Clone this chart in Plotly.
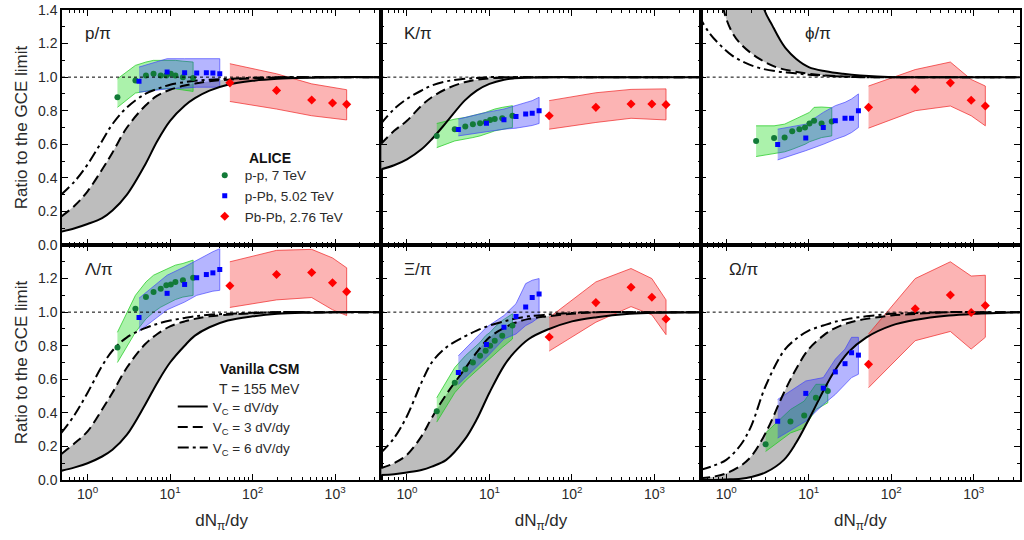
import plotly.graph_objects as go
from plotly.subplots import make_subplots

# ---------------- data ----------------
X_CURVE = [0.48, 0.7, 1, 1.5, 2, 3, 5, 7, 10, 15, 20, 30, 50, 100, 200, 500, 1000, 3600]

P_SOLID = [0.08, 0.10, 0.125, 0.16, 0.205, 0.30, 0.48, 0.62, 0.74, 0.83, 0.875, 0.92, 0.955, 0.978, 0.99, 0.997, 1.0, 1.0]
P_DASH = [0.17, 0.235, 0.32, 0.45, 0.55, 0.70, 0.83, 0.89, 0.925, 0.95, 0.962, 0.975, 0.985, 0.993, 0.997, 1.0, 1.0, 1.0]
P_DDOT = [0.30, 0.38, 0.48, 0.62, 0.72, 0.82, 0.90, 0.93, 0.955, 0.97, 0.978, 0.985, 0.99, 0.996, 1.0, 1.0, 1.0, 1.0]

K_SOLID = [0.45, 0.475, 0.51, 0.57, 0.63, 0.73, 0.86, 0.92, 0.96, 0.985, 0.993, 0.998, 1.0, 1.0, 1.0, 1.0, 1.0, 1.0]
K_DASH = [0.60, 0.68, 0.74, 0.83, 0.88, 0.93, 0.97, 0.985, 0.993, 0.997, 1.0, 1.0, 1.0, 1.0, 1.0, 1.0, 1.0, 1.0]
K_DDOT = [0.72, 0.81, 0.87, 0.92, 0.95, 0.975, 0.99, 0.995, 1.0, 1.0, 1.0, 1.0, 1.0, 1.0, 1.0, 1.0, 1.0, 1.0]

PHI_SOLID_X = [2.4, 2.9, 3.6, 4.4, 5.3, 7, 10, 16, 26, 42, 107, 300, 1000, 3600]
PHI_SOLID = [1.6, 1.40, 1.31, 1.23, 1.17, 1.11, 1.06, 1.035, 1.02, 1.01, 1.0, 1.0, 1.0, 1.0]
PHI_DASH_X = [0.8, 0.93, 1.17, 1.55, 2.5, 4, 6.4, 10, 16, 42, 100, 300, 1000, 3600]
PHI_DASH = [1.6, 1.40, 1.27, 1.19, 1.11, 1.06, 1.035, 1.02, 1.01, 1.0, 1.0, 1.0, 1.0, 1.0]
PHI_DDOT_X = [0.46, 0.61, 0.81, 1.17, 1.71, 2.5, 4, 6.4, 10, 20, 50, 200, 1000, 3600]
PHI_DDOT = [1.37, 1.27, 1.20, 1.13, 1.085, 1.055, 1.035, 1.025, 1.015, 1.005, 1.0, 1.0, 1.0, 1.0]

L_SOLID = [0.055, 0.075, 0.10, 0.14, 0.18, 0.27, 0.45, 0.58, 0.70, 0.80, 0.86, 0.91, 0.95, 0.975, 0.99, 0.997, 1.0, 1.0]
L_DASH = [0.155, 0.22, 0.29, 0.42, 0.52, 0.67, 0.81, 0.87, 0.915, 0.945, 0.96, 0.975, 0.985, 0.993, 1.0, 1.0, 1.0, 1.0]
L_DDOT = [0.28, 0.39, 0.52, 0.68, 0.77, 0.85, 0.905, 0.93, 0.95, 0.965, 0.975, 0.985, 0.99, 0.996, 1.0, 1.0, 1.0, 1.0]

XI_SOLID = [0.03, 0.035, 0.045, 0.06, 0.08, 0.12, 0.24, 0.36, 0.52, 0.68, 0.76, 0.84, 0.895, 0.945, 0.97, 0.99, 0.997, 1.0]
XI_DASH = [0.07, 0.10, 0.15, 0.26, 0.37, 0.51, 0.66, 0.76, 0.85, 0.905, 0.935, 0.96, 0.975, 0.99, 1.0, 1.0, 1.0, 1.0]
XI_DDOT = [0.16, 0.25, 0.38, 0.58, 0.70, 0.79, 0.855, 0.89, 0.92, 0.945, 0.96, 0.975, 0.985, 0.995, 1.0, 1.0, 1.0, 1.0]

OM_SOLID = [0.0, 0.0, 0.003, 0.008, 0.018, 0.045, 0.12, 0.22, 0.36, 0.53, 0.64, 0.76, 0.85, 0.92, 0.955, 0.98, 0.99, 1.0]
OM_DASH = [0.01, 0.02, 0.04, 0.085, 0.14, 0.28, 0.52, 0.66, 0.78, 0.86, 0.90, 0.935, 0.96, 0.98, 0.99, 1.0, 1.0, 1.0]
OM_DDOT = [0.06, 0.085, 0.12, 0.21, 0.32, 0.56, 0.77, 0.84, 0.89, 0.92, 0.94, 0.96, 0.975, 0.99, 0.995, 1.0, 1.0, 1.0]

X_PP = [2.3, 3.8, 5.1, 6.3, 7.7, 9.0, 10.2, 11.6, 14.3, 19.0]
X_PP_OMEGA = [3.0, 6.0, 8.8, 12.2, 17.0]
X_PPB = [4.2, 9.2, 15, 21, 27.5, 33, 40]
X_PBPB = [53, 195, 520, 930, 1380]

P_PP = [0.88, 0.98, 1.01, 1.02, 1.01, 1.01, 1.02, 1.01, 1.0, 0.995]
P_PP_HI = [0.99, 1.07, 1.09, 1.10, 1.10, 1.10, 1.10, 1.10, 1.095, 1.09]
P_PP_LO = [0.82, 0.905, 0.915, 0.925, 0.93, 0.93, 0.93, 0.93, 0.925, 0.915]
P_PPB = [0.976, 1.03, 1.026, 1.024, 1.026, 1.024, 1.02]
P_PPB_HI = [1.06, 1.11, 1.11, 1.11, 1.11, 1.11, 1.11]
P_PPB_LO = [0.91, 0.93, 0.935, 0.94, 0.94, 0.94, 0.94]
P_PBPB = [0.966, 0.921, 0.864, 0.846, 0.838]
P_PBPB_HI = [1.08, 1.02, 0.96, 0.94, 0.925]
P_PBPB_LO = [0.855, 0.81, 0.77, 0.755, 0.745]

K_PP = [0.65, 0.69, 0.706, 0.72, 0.726, 0.733, 0.744, 0.75, 0.755, 0.77]
K_PP_HI = [0.724, 0.75, 0.76, 0.77, 0.78, 0.79, 0.80, 0.81, 0.82, 0.83]
K_PP_LO = [0.58, 0.62, 0.63, 0.64, 0.65, 0.66, 0.67, 0.68, 0.69, 0.70]
K_PPB = [0.688, 0.726, 0.746, 0.765, 0.78, 0.785, 0.80]
K_PPB_HI = [0.75, 0.79, 0.81, 0.83, 0.85, 0.86, 0.88]
K_PPB_LO = [0.65, 0.675, 0.69, 0.696, 0.705, 0.712, 0.724]
K_PBPB = [0.77, 0.82, 0.84, 0.84, 0.836]
K_PBPB_HI = [0.86, 0.907, 0.927, 0.93, 0.93]
K_PBPB_LO = [0.69, 0.73, 0.755, 0.75, 0.745]

PHI_PP = [0.62, 0.637, 0.64, 0.677, 0.69, 0.70, 0.724, 0.74, 0.724, 0.736]
PHI_PP_HI = [0.71, 0.71, 0.72, 0.74, 0.76, 0.775, 0.79, 0.82, 0.822, 0.818]
PHI_PP_LO = [0.527, 0.545, 0.555, 0.57, 0.585, 0.60, 0.615, 0.625, 0.64, 0.65]
PHI_PPB = [0.598, 0.637, 0.70, 0.74, 0.755, 0.755, 0.80]
PHI_PPB_HI = [0.69, 0.72, 0.79, 0.83, 0.85, 0.87, 0.90]
PHI_PPB_LO = [0.507, 0.562, 0.60, 0.63, 0.65, 0.67, 0.70]
PHI_PBPB = [0.82, 0.927, 0.966, 0.862, 0.828]
PHI_PBPB_HI = [0.947, 1.045, 1.09, 0.986, 0.947]
PHI_PBPB_LO = [0.696, 0.80, 0.828, 0.77, 0.71]

L_PP = [0.79, 1.02, 1.09, 1.12, 1.14, 1.16, 1.165, 1.18, 1.19, 1.205]
L_PP_HI = [0.88, 1.10, 1.18, 1.22, 1.24, 1.255, 1.265, 1.28, 1.29, 1.31]
L_PP_LO = [0.70, 0.88, 0.96, 1.0, 1.03, 1.05, 1.06, 1.075, 1.09, 1.10]
L_PPB = [0.968, 1.112, 1.165, 1.205, 1.224, 1.234, 1.254]
L_PPB_HI = [1.083, 1.22, 1.27, 1.31, 1.34, 1.36, 1.378]
L_PPB_LO = [0.886, 1.014, 1.06, 1.10, 1.115, 1.125, 1.13]
L_PBPB = [1.157, 1.224, 1.236, 1.175, 1.122]
L_PBPB_HI = [1.30, 1.368, 1.374, 1.323, 1.264]
L_PBPB_LO = [1.028, 1.073, 1.087, 1.014, 0.98]

XI_PP = [0.41, 0.58, 0.66, 0.70, 0.74, 0.77, 0.80, 0.83, 0.86, 0.92]
XI_PP_HI = [0.49, 0.67, 0.74, 0.78, 0.82, 0.86, 0.88, 0.91, 0.95, 0.99]
XI_PP_LO = [0.345, 0.52, 0.59, 0.63, 0.67, 0.70, 0.72, 0.75, 0.79, 0.84]
XI_PPB = [0.64, 0.807, 0.91, 0.974, 1.03, 1.087, 1.108]
XI_PPB_HI = [0.74, 0.91, 0.98, 1.05, 1.17, 1.19, 1.20]
XI_PPB_LO = [0.57, 0.73, 0.84, 0.87, 0.92, 0.94, 0.97]
XI_PBPB = [0.852, 1.057, 1.148, 1.089, 0.959]
XI_PBPB_HI = [0.968, 1.18, 1.26, 1.20, 1.073]
XI_PBPB_LO = [0.768, 0.94, 1.033, 0.984, 0.866]

OM_PP = [0.213, 0.348, 0.384, 0.49, 0.53]
OM_PP_HI = [0.28, 0.42, 0.47, 0.57, 0.57]
OM_PP_LO = [0.17, 0.28, 0.31, 0.42, 0.46]
OM_PPB = [0.35, 0.516, 0.547, 0.644, 0.693, 0.758, 0.744]
OM_PPB_HI = [0.48, 0.59, 0.61, 0.72, 0.78, 0.85, 0.85]
OM_PPB_LO = [0.25, 0.35, 0.45, 0.51, 0.57, 0.61, 0.63]
OM_PBPB = [0.689, 1.02, 1.102, 0.998, 1.04]
OM_PBPB_HI = [0.87, 1.20, 1.30, 1.215, 1.22]
OM_PBPB_LO = [0.55, 0.83, 0.885, 0.78, 0.85]

PANEL_LABELS = ["p/π", "K/π", "ϕ/π", "Λ/π", "Ξ/π", "Ω/π"]
SERIES_NAMES = ["p-p, 7 TeV", "p-Pb, 5.02 TeV", "Pb-Pb, 2.76 TeV"]
CURVE_NAMES = ["V<sub>C</sub> = dV/dy", "V<sub>C</sub> = 3 dV/dy", "V<sub>C</sub> = 6 dV/dy"]
X_TICKS = [1, 10, 100, 1000]
X_TICKTEXT = ["10<sup>0</sup>", "10<sup>1</sup>", "10<sup>2</sup>", "10<sup>3</sup>"]
Y_TICKS_TOP = [0, 0.2, 0.4, 0.6, 0.8, 1.0, 1.2, 1.4]
Y_TICKS_BOTTOM = [0, 0.2, 0.4, 0.6, 0.8, 1.0, 1.2]

# ---------------- build panels ----------------
panels = [
    dict(r=1, c=1, curves=[(X_CURVE, P_SOLID), (X_CURVE, P_DASH), (X_CURVE, P_DDOT)],
         pp=(X_PP, P_PP, P_PP_HI, P_PP_LO), ppb=(X_PPB, P_PPB, P_PPB_HI, P_PPB_LO),
         pbpb=(X_PBPB, P_PBPB, P_PBPB_HI, P_PBPB_LO), lab=(0.066, 0.90)),
    dict(r=1, c=2, curves=[(X_CURVE, K_SOLID), (X_CURVE, K_DASH), (X_CURVE, K_DDOT)],
         pp=(X_PP, K_PP, K_PP_HI, K_PP_LO), ppb=(X_PPB, K_PPB, K_PPB_HI, K_PPB_LO),
         pbpb=(X_PBPB, K_PBPB, K_PBPB_HI, K_PBPB_LO), lab=(0.066, 0.90)),
    dict(r=1, c=3, curves=[(PHI_SOLID_X, PHI_SOLID), (PHI_DASH_X, PHI_DASH), (PHI_DDOT_X, PHI_DDOT)],
         pp=(X_PP, PHI_PP, PHI_PP_HI, PHI_PP_LO), ppb=(X_PPB, PHI_PPB, PHI_PPB_HI, PHI_PPB_LO),
         pbpb=(X_PBPB, PHI_PBPB, PHI_PBPB_HI, PHI_PBPB_LO), lab=(0.32, 0.90)),
    dict(r=2, c=1, curves=[(X_CURVE, L_SOLID), (X_CURVE, L_DASH), (X_CURVE, L_DDOT)],
         pp=(X_PP, L_PP, L_PP_HI, L_PP_LO), ppb=(X_PPB, L_PPB, L_PPB_HI, L_PPB_LO),
         pbpb=(X_PBPB, L_PBPB, L_PBPB_HI, L_PBPB_LO), lab=(0.066, 0.895)),
    dict(r=2, c=2, curves=[(X_CURVE, XI_SOLID), (X_CURVE, XI_DASH), (X_CURVE, XI_DDOT)],
         pp=(X_PP, XI_PP, XI_PP_HI, XI_PP_LO), ppb=(X_PPB, XI_PPB, XI_PPB_HI, XI_PPB_LO),
         pbpb=(X_PBPB, XI_PBPB, XI_PBPB_HI, XI_PBPB_LO), lab=(0.066, 0.895)),
    dict(r=2, c=3, curves=[(X_CURVE, OM_SOLID), (X_CURVE, OM_DASH), (X_CURVE, OM_DDOT)],
         pp=(X_PP_OMEGA, OM_PP, OM_PP_HI, OM_PP_LO), ppb=(X_PPB, OM_PPB, OM_PPB_HI, OM_PPB_LO),
         pbpb=(X_PBPB, OM_PBPB, OM_PBPB_HI, OM_PBPB_LO), lab=(0.081, 0.895)),
]

GRAY = "#bdbdbd"
STYLES = {
    "pp": dict(fill="rgba(0,215,0,0.33)", edge="rgba(30,200,30,0.9)", mk="#127a38", sym="circle", size=6),
    "ppb": dict(fill="rgba(30,30,255,0.33)", edge="rgba(60,60,255,0.8)", mk="#0000ff", sym="square", size=5),
    "pbpb": dict(fill="rgba(245,40,40,0.35)", edge="rgba(240,40,40,0.9)", mk="#ff0000", sym="diamond", size=7),
}
DASHES = ["solid", "10px,5px", "11px,4px,3px,4px"]

fig = make_subplots(rows=2, cols=3, horizontal_spacing=0, vertical_spacing=0)

for i, p in enumerate(panels):
    r, c = p["r"], p["c"]
    (xs, ys), (xd, yd), _ = p["curves"]
    # gray band between the solid and dashed curves
    fig.add_trace(go.Scatter(x=xs, y=ys, mode="lines", line=dict(width=0, shape="spline"),
                             showlegend=False, hoverinfo="skip"), row=r, col=c)
    fig.add_trace(go.Scatter(x=xd, y=yd, mode="lines", line=dict(width=0, shape="spline"),
                             fill="tonexty", fillcolor=GRAY, showlegend=False, hoverinfo="skip"),
                  row=r, col=c)
    # systematic bands
    for key in ["pp", "ppb", "pbpb"]:
        x, y, hi, lo = p[key]
        st = STYLES[key]
        fig.add_trace(go.Scatter(x=list(x) + list(x)[::-1], y=list(hi) + list(lo)[::-1],
                                 mode="lines", fill="toself", fillcolor=st["fill"],
                                 line=dict(color=st["edge"], width=0.8),
                                 showlegend=False, hoverinfo="skip"), row=r, col=c)
    # model curves
    for k, (cx, cy) in enumerate(p["curves"]):
        fig.add_trace(go.Scatter(x=cx, y=cy, mode="lines", name=CURVE_NAMES[k],
                                 line=dict(color="black", width=2, dash=DASHES[k], shape="spline"),
                                 showlegend=(i == 3), legend="legend2"), row=r, col=c)
    # data points
    for k, key in enumerate(["pp", "ppb", "pbpb"]):
        x, y, hi, lo = p[key]
        st = STYLES[key]
        fig.add_trace(go.Scatter(x=x, y=y, mode="markers", name=SERIES_NAMES[k],
                                 marker=dict(color=st["mk"], symbol=st["sym"], size=st["size"]),
                                 showlegend=(i == 0), legend="legend"), row=r, col=c)
    # panel label
    sfx = "" if i == 0 else str(i + 1)
    fig.add_annotation(text=PANEL_LABELS[i], xref=f"x{sfx} domain", yref=f"y{sfx} domain",
                       x=p["lab"][0], y=p["lab"][1], xanchor="left", yanchor="middle",
                       showarrow=False, font=dict(size=17, color="#222"))

TXT = "#2a2a2a"
for r in (1, 2):
    for c in (1, 2, 3):
        fig.update_xaxes(type="log", range=[-0.31, 3.56], showline=True, linecolor="black",
                         linewidth=1.5, mirror="ticks", ticks="inside", ticklen=6, tickwidth=1,
                         tickcolor="black", tickvals=X_TICKS, ticktext=X_TICKTEXT,
                         showticklabels=(r == 2), showgrid=False, zeroline=False,
                         tickfont=dict(size=14, color=TXT),
                         minor=dict(ticks="inside", ticklen=3, dtick="D1", tickcolor="black"),
                         row=r, col=c)
        fig.update_yaxes(range=[0, 1.4], showline=True, linecolor="black", linewidth=1.5,
                         mirror="ticks", ticks="inside", ticklen=6, tickwidth=1, tickcolor="black",
                         tickvals=Y_TICKS_TOP if r == 1 else Y_TICKS_BOTTOM,
                         tickformat=".1f", showticklabels=(c == 1), showgrid=False, zeroline=False,
                         tickfont=dict(size=14, color=TXT), ticklabeloverflow="allow",
                         minor=dict(ticks="inside", ticklen=3, dtick=0.1, tickcolor="black"),
                         row=r, col=c)
    fig.update_yaxes(title=dict(text="Ratio to the GCE limit", font=dict(size=17, color=TXT), standoff=6),
                     row=r, col=1)
for c in (1, 2, 3):
    fig.update_xaxes(title=dict(text="dN<sub>π</sub>/dy", font=dict(size=17, color=TXT), standoff=14),
                     row=2, col=c)

fig.add_hline(y=1.0, line=dict(color="black", width=1, dash="dot"), row="all", col="all")

# legend titles
fig.add_annotation(text="<b>ALICE</b>", xref="paper", yref="paper", x=0.2167, y=0.685,
                   showarrow=False, font=dict(size=14, color="#111"), xanchor="center", yanchor="middle")
fig.add_annotation(text="<b>Vanilla CSM</b>", xref="paper", yref="paper", x=0.2063, y=0.237,
                   showarrow=False, font=dict(size=14, color="#111"), xanchor="center", yanchor="middle")
fig.add_annotation(text="T = 155 MeV", xref="paper", yref="paper", x=0.2063, y=0.1945,
                   showarrow=False, font=dict(size=14, color=TXT), xanchor="center", yanchor="middle")

fig.update_layout(
    width=1024, height=540, margin=dict(l=62, r=2, t=7, b=60),
    paper_bgcolor="white", plot_bgcolor="white",
    font=dict(family="Arial, Liberation Sans, sans-serif", color=TXT),
    legend=dict(x=0.149, y=0.681, xanchor="left", yanchor="top", bgcolor="rgba(0,0,0,0)",
                font=dict(size=13.5, color=TXT), itemwidth=30, tracegroupgap=0, traceorder="normal"),
    legend2=dict(x=0.1156, y=0.189, xanchor="left", yanchor="top", bgcolor="rgba(0,0,0,0)",
                 font=dict(size=13.5, color=TXT), itemwidth=30, tracegroupgap=0, traceorder="normal"),
)

fig.write_html("out.html")
